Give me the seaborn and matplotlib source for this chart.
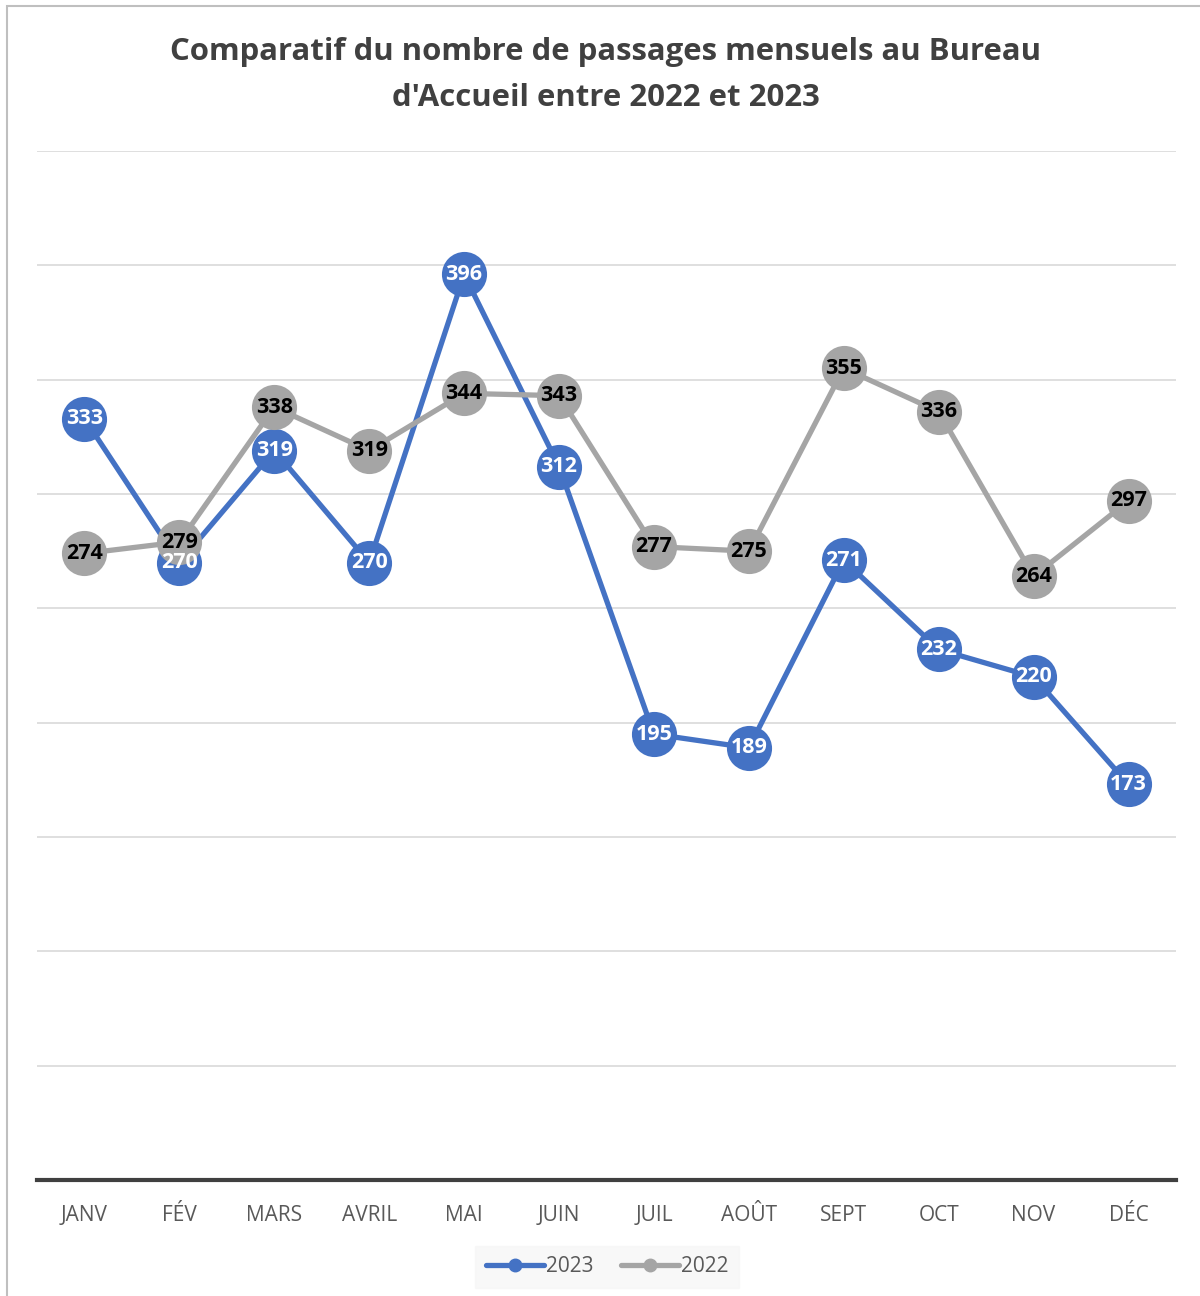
import matplotlib
matplotlib.use("Agg")
import matplotlib.pyplot as plt
from matplotlib.lines import Line2D
from matplotlib.patches import Rectangle
import seaborn as sns
import pandas as pd

months = ["JANV", "FÉV", "MARS", "AVRIL", "MAI", "JUIN", "JUIL", "AOÛT", "SEPT", "OCT", "NOV", "DÉC"]
passages_2023 = [333, 270, 319, 270, 396, 312, 195, 189, 271, 232, 220, 173]
passages_2022 = [274, 279, 338, 319, 344, 343, 277, 275, 355, 336, 264, 297]
series_names = ["2023", "2022"]
title = "Comparatif du nombre de passages mensuels au Bureau\nd'Accueil entre 2022 et 2023"

blue = "#4472C4"
grey = "#A5A5A5"
text_grey = "#595959"

sns.set_theme(style="white")
plt.rcParams["font.family"] = ["Open Sans", "DejaVu Sans"]

df = pd.DataFrame({
    "mois": list(range(len(months))) * 2,
    "passages": passages_2023 + passages_2022,
    "annee": [series_names[0]] * len(months) + [series_names[1]] * len(months),
})

fig = plt.figure(figsize=(12, 12.96), dpi=100)
ax = fig.add_axes([37 / 1200, 116 / 1296, 1139 / 1200, 1029 / 1296])

sns.lineplot(data=df, x="mois", y="passages", hue="annee",
             palette={"2023": blue, "2022": grey}, hue_order=series_names,
             marker="o", markersize=32.5, markeredgewidth=0, linewidth=3.8,
             legend=False, ax=ax, zorder=3)

for vals, col in ((passages_2023, "white"), (passages_2022, "black")):
    for i, v in enumerate(vals):
        ax.text(i, v, str(v), ha="center", va="center", fontsize=15.5,
                fontweight="bold", color=col, zorder=10)

ax.set_xlim(-0.5, len(months) - 0.5)
ax.set_ylim(0, 450)
ax.set_yticks(range(0, 451, 50))
ax.set_yticklabels([])
ax.yaxis.grid(True, color="#D9D9D9", linewidth=1.2)
ax.set_axisbelow(True)
ax.tick_params(axis="y", length=0)
ax.set_xticks(range(len(months)))
ax.set_xticklabels(months, fontsize=15, color=text_grey)
ax.tick_params(axis="x", length=0, pad=18)
ax.set_xlabel("")
ax.set_ylabel("")
for s in ("left", "right", "top"):
    ax.spines[s].set_visible(False)
ax.spines["bottom"].set_color("#404040")
ax.spines["bottom"].set_linewidth(3)

fig.text(606 / 1200, 1 - 75 / 1296, title, ha="center", va="center",
         fontsize=22.4, fontweight="bold", color="#404040", linespacing=1.72)

handles = [Line2D([], [], color=blue, linewidth=3.8, marker="o", markersize=9),
           Line2D([], [], color=grey, linewidth=3.8, marker="o", markersize=9)]
leg = fig.legend(handles, series_names, loc="center", bbox_to_anchor=(607 / 1200, 1 - 1267 / 1296),
                 ncol=2, frameon=True, fontsize=15, handlelength=2.8, handletextpad=0.1,
                 columnspacing=1.3, borderpad=0.5)
leg.get_frame().set_facecolor("#F7F7F7")
leg.get_frame().set_edgecolor("#F7F7F7")
leg.get_frame().set_boxstyle("square", pad=0)
for t in leg.get_texts():
    t.set_color(text_grey)

fig.patches.append(Rectangle((7 / 1200, -0.1), 1.2, 1 - 6 / 1296 + 0.1, transform=fig.transFigure,
                             fill=False, edgecolor="#BFBFBF", linewidth=1.5))

fig.savefig("out.png", dpi=100)
